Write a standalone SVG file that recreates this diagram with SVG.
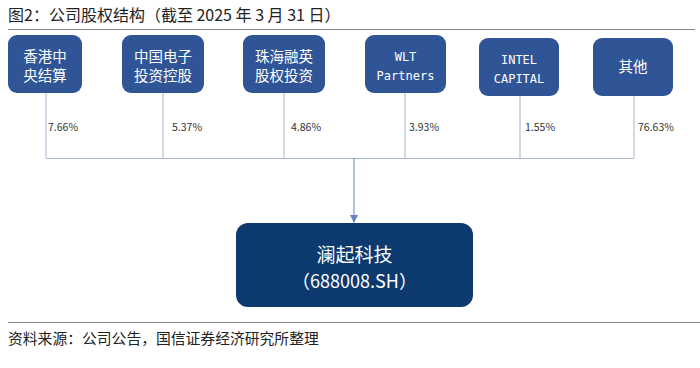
<svg xmlns="http://www.w3.org/2000/svg" width="700" height="368" viewBox="0 0 700 368">
<defs>
<style>
.cjk{font-family:"Noto Sans CJK SC","Noto Sans",sans-serif}
.box{fill:#2f5597}
.bt{fill:#fff;font-size:14.5px;text-anchor:middle;font-family:"Noto Sans CJK SC",sans-serif}
.mono{fill:#fff;font-size:12px;text-anchor:middle;font-family:"DejaVu Sans Mono","Liberation Mono",monospace}
.pct{fill:#333;font-size:10.5px;font-family:"Noto Sans CJK SC","Liberation Sans",sans-serif}
.ln{stroke:#a8b3cc;stroke-width:1;fill:none}
</style>
<marker id="arr" markerWidth="8" markerHeight="8" refX="7" refY="4" orient="auto" markerUnits="userSpaceOnUse">
<path d="M0,0 L8,4 L0,8 Z" fill="#6b80c0"/>
</marker>
</defs>
<rect width="700" height="368" fill="#fff"/>
<text x="8" y="21" class="cjk" font-size="16" fill="#222">图2：公司股权结构（截至 2025 年 3 月 31 日）</text>
<line x1="8" y1="29.5" x2="695" y2="29.5" stroke="#888" stroke-width="1"/>
<g id="connectors">
<path class="ln" d="M46,93 V158 M163,93 V158 M284,93 V158 M405,93 V158 M520,96 V158 M634,96 V158 M46,158.5 H634"/>
<line x1="354" y1="158" x2="354" y2="222" stroke="#6b80c0" stroke-width="1" marker-end="url(#arr)"/>
</g>
<g id="n1"><rect class="box" x="8" y="35" width="74" height="58" rx="9"/><text class="bt" x="45" y="62">香港中</text><text class="bt" x="45" y="81">央结算</text></g>
<g id="n2"><rect class="box" x="122" y="35" width="82" height="58" rx="9"/><text class="bt" x="163" y="62">中国电子</text><text class="bt" x="163" y="81">投资控股</text></g>
<g id="n3"><rect class="box" x="243" y="35" width="82" height="58" rx="9"/><text class="bt" x="284" y="62">珠海融英</text><text class="bt" x="284" y="81">股权投资</text></g>
<g id="n4"><rect class="box" x="365" y="35" width="81" height="58" rx="9"/><text class="mono" x="405.5" y="61">WLT</text><text class="mono" x="405.5" y="80">Partners</text></g>
<g id="n5"><rect class="box" x="479" y="38" width="80" height="58" rx="9"/><text class="mono" x="519" y="64">INTEL</text><text class="mono" x="519" y="83">CAPITAL</text></g>
<g id="n6"><rect class="box" x="593" y="38" width="80" height="58" rx="9"/><text class="bt" x="633" y="72">其他</text></g>
<g id="pcts">
<text class="pct" x="48" y="131">7.66%</text>
<text class="pct" x="172" y="131">5.37%</text>
<text class="pct" x="291" y="131">4.86%</text>
<text class="pct" x="409" y="131">3.93%</text>
<text class="pct" x="525" y="131">1.55%</text>
<text class="pct" x="638" y="131">76.63%</text>
</g>
<g id="main"><rect x="236" y="223" width="237" height="84" rx="12" fill="#0d3a6e"/>
<text x="354.5" y="262" fill="#fff" font-size="19" text-anchor="middle" class="cjk">澜起科技</text>
<text x="354.5" y="288" fill="#fff" font-size="18" text-anchor="middle" class="cjk">（688008.SH）</text></g>
<line x1="8" y1="322.5" x2="700" y2="322.5" stroke="#888" stroke-width="1"/>
<text x="8" y="344" class="cjk" font-size="14.8" fill="#222">资料来源：公司公告，国信证券经济研究所整理</text>
</svg>
